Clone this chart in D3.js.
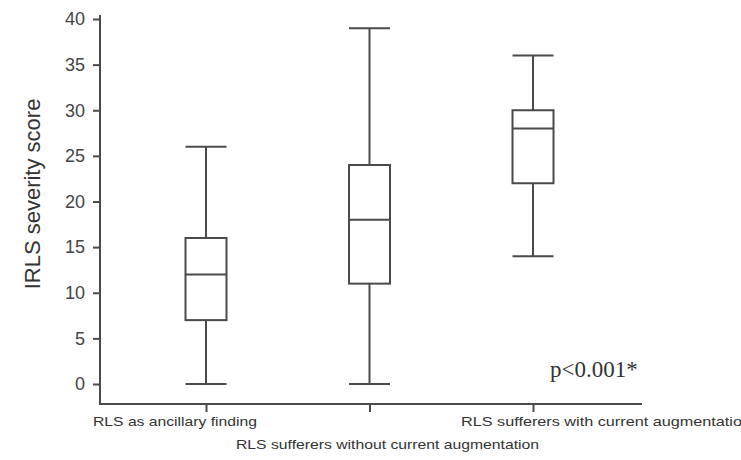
<!DOCTYPE html>
<html lang="en">
<head>
<meta charset="utf-8">
<title>IRLS severity score</title>
<script src="https://cdn.jsdelivr.net/npm/d3@7"></script>
<style>
body { margin: 0; background: #fff; }
.axis text { font: 18px "Liberation Sans", Arial, sans-serif; fill: #444; }
.axis path, .axis line { stroke: #4a4a4a; stroke-width: 2; fill: none; }
.box rect, .box line { stroke: #4a4a4a; stroke-width: 2; fill: none; }
.cat { font: 13px "Liberation Sans", Arial, sans-serif; fill: #333; }
</style>
</head>
<body>
<svg id="chart" width="741" height="460"></svg>
<script>
var categories = ['RLS as ancillary finding', 'RLS sufferers without current augmentation', 'RLS sufferers with current augmentation'];
var whiskerLow = [0, 0, 14];
var q1 = [7, 11, 22];
var median = [12, 18, 28];
var q3 = [16, 24, 30];
var whiskerHigh = [26, 39, 36];
var yTicks = [0, 5, 10, 15, 20, 25, 30, 35, 40];

var svg = d3.select('#chart');
var left = 100, bottom = 404, right = 642;

var y = d3.scaleLinear().domain([0, 40]).range([384, 19]);
var x = d3.scalePoint().domain(categories).range([206, 533]);
var boxW = 41;

// y axis
var gy = svg.append('g').attr('class', 'axis')
  .attr('transform', 'translate(' + left + ',0)')
  .call(d3.axisLeft(y).tickValues(yTicks).tickSize(7).tickPadding(8));
gy.select('.domain').remove();
gy.append('line').attr('x1', 0).attr('x2', 0).attr('y1', 15).attr('y2', bottom);

// x axis
var gx = svg.append('g').attr('class', 'axis')
  .attr('transform', 'translate(0,' + bottom + ')')
  .call(d3.axisBottom(x).tickSize(8).tickFormat(''));
gx.select('.domain').remove();
gx.append('line').attr('x1', left - 1).attr('x2', right).attr('y1', 0).attr('y2', 0);

// category labels (staggered as in the original)
var labelPos = [{x: 93, y: 426, w: 164}, {x: 236, y: 449, w: 303}, {x: 461, y: 426, w: 290}];
svg.selectAll('.cat').data(categories).enter().append('text')
  .attr('class', 'cat')
  .attr('x', function(d, i) { return labelPos[i].x; })
  .attr('y', function(d, i) { return labelPos[i].y; })
  .attr('textLength', function(d, i) { return labelPos[i].w; })
  .attr('lengthAdjust', 'spacingAndGlyphs')
  .text(function(d) { return d; });

// y label
svg.append('text')
  .attr('transform', 'translate(40,194) rotate(-90)')
  .attr('text-anchor', 'middle')
  .style('font', '22px "Liberation Sans", Arial, sans-serif')
  .style('fill', '#333')
  .text('IRLS severity score');

// boxes
var boxes = svg.selectAll('.box').data(categories).enter().append('g').attr('class', 'box');
boxes.append('line')
  .attr('x1', function(d) { return x(d); }).attr('x2', function(d) { return x(d); })
  .attr('y1', function(d, i) { return y(whiskerHigh[i]); })
  .attr('y2', function(d, i) { return y(q3[i]); });
boxes.append('line')
  .attr('x1', function(d) { return x(d); }).attr('x2', function(d) { return x(d); })
  .attr('y1', function(d, i) { return y(q1[i]); })
  .attr('y2', function(d, i) { return y(whiskerLow[i]); });
boxes.append('line')
  .attr('x1', function(d) { return x(d) - boxW / 2; }).attr('x2', function(d) { return x(d) + boxW / 2; })
  .attr('y1', function(d, i) { return y(whiskerHigh[i]); })
  .attr('y2', function(d, i) { return y(whiskerHigh[i]); });
boxes.append('line')
  .attr('x1', function(d) { return x(d) - boxW / 2; }).attr('x2', function(d) { return x(d) + boxW / 2; })
  .attr('y1', function(d, i) { return y(whiskerLow[i]); })
  .attr('y2', function(d, i) { return y(whiskerLow[i]); });
boxes.append('rect')
  .attr('x', function(d) { return x(d) - boxW / 2; })
  .attr('width', boxW)
  .attr('y', function(d, i) { return y(q3[i]); })
  .attr('height', function(d, i) { return y(q1[i]) - y(q3[i]); })
  .style('fill', '#fff');
boxes.append('line')
  .attr('x1', function(d) { return x(d) - boxW / 2; }).attr('x2', function(d) { return x(d) + boxW / 2; })
  .attr('y1', function(d, i) { return y(median[i]); })
  .attr('y2', function(d, i) { return y(median[i]); });

svg.append('text')
  .attr('x', 550).attr('y', 377)
  .style('font', '23px "Liberation Serif", "Times New Roman", serif')
  .style('fill', '#333')
  .text('p<0.001*');
</script>
</body>
</html>
